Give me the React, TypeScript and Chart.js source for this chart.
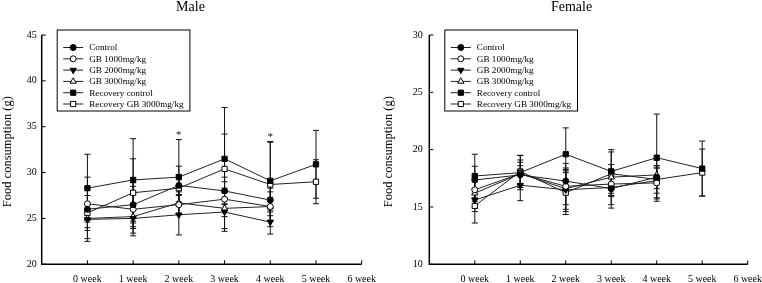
import React, { useEffect, useRef } from 'react';
import { Chart, registerables } from 'chart.js';

Chart.register(...registerables);

const weeks = [0, 1, 2, 3, 4, 5];
const weekLabels = ['0 week', '1 week', '2 week', '3 week', '4 week', '5 week', '6 week'];
const seriesNames = ['Control', 'GB 1000mg/kg', 'GB 2000mg/kg', 'GB 3000mg/kg', 'Recovery control', 'Recovery GB 3000mg/kg'];
const yTitle = 'Food consumption (g)';

// Male means
const maleControl = [26.0, 26.5, 28.6, 28.0, 27.0, null];
const maleGB1000 = [26.6, 26.0, 26.5, 27.1, 26.3, null];
const maleGB2000 = [24.9, 25.0, 25.4, 25.7, 24.6, null];
const maleGB3000 = [25.0, 25.2, 26.7, 26.1, 26.3, null];
const maleRecControl = [28.3, 29.2, 29.5, 31.5, 29.1, 30.9];
const maleRecGB3000 = [25.6, 27.8, 28.3, 30.4, 28.7, 29.0];
// Male SD
const maleControlSD = [3.5, 2.0, 2.1, 1.5, 1.3, null];
const maleGB1000SD = [0.9, 2.9, 1.0, 1.9, 1.0, null];
const maleGB2000SD = [1.2, 1.6, 2.2, 2.1, 1.3, null];
const maleGB3000SD = [1.0, 1.3, 1.2, 2.2, 1.6, null];
const maleRecControlSD = [3.7, 4.5, 4.1, 5.6, 4.3, 3.7];
const maleRecGB3000SD = [2.8, 3.7, 1.5, 3.8, 4.6, 2.4];
const maleSigWeeks = [2, 4];

// Female means
const femaleControl = [17.35, 17.8, 17.26, 16.6, 17.6, null];
const femaleGB1000 = [16.5, 17.9, 16.8, 17.0, 17.1, null];
const femaleGB2000 = [15.6, 16.9, 16.5, 16.7, 17.3, null];
const femaleGB3000 = [16.2, 17.9, 16.6, 17.6, 17.8, null];
const femaleRecControl = [17.7, 18.0, 19.6, 18.1, 19.3, 18.35];
const femaleRecGB3000 = [15.1, 18.1, 16.25, 17.9, 17.4, 18.0];
// Female SD
const femaleControlSD = [1.2, 0.8, 1.0, 1.7, 1.0, null];
const femaleGB1000SD = [1.0, 1.0, 2.0, 1.1, 1.3, null];
const femaleGB2000SD = [1.0, 1.35, 1.9, 1.5, 1.1, null];
const femaleGB3000SD = [1.3, 1.2, 1.4, 1.1, 0.8, null];
const femaleRecControlSD = [1.9, 1.5, 2.3, 1.9, 3.8, 2.4];
const femaleRecGB3000SD = [1.5, 1.4, 1.9, 1.9, 1.7, 2.05];
const femaleSigWeeks: number[] = [];

const markerStyles = ['circle', 'circle', 'triangle', 'triangle', 'rect', 'rect'];
const markerRotations = [0, 0, 180, 0, 0, 0];
const markerFills = ['#000', '#fff', '#000', '#fff', '#000', '#fff'];

const FONT = '"Liberation Serif", "Times New Roman", serif';
const W = 381;
const H = 283;
const AREA_TOP = 35;
const AREA_BOTTOM = 264.3;

type Panel = {
  title: string;
  yMin: number;
  yMax: number;
  axisLeft: number;
  axisRight: number;
  tickPad: number;
  yTitleX: number;
  means: (number | null)[][];
  sds: (number | null)[][];
  sig: number[];
};

const panels: Panel[] = [
  {
    title: 'Male', yMin: 20, yMax: 45, axisLeft: 41.7, axisRight: 361.7, tickPad: 5, yTitleX: 7.5,
    means: [maleControl, maleGB1000, maleGB2000, maleGB3000, maleRecControl, maleRecGB3000],
    sds: [maleControlSD, maleGB1000SD, maleGB2000SD, maleGB3000SD, maleRecControlSD, maleRecGB3000SD],
    sig: maleSigWeeks,
  },
  {
    title: 'Female', yMin: 10, yMax: 30, axisLeft: 48.3, axisRight: 366.7, tickPad: 6.5, yTitleX: 8,
    means: [femaleControl, femaleGB1000, femaleGB2000, femaleGB3000, femaleRecControl, femaleRecGB3000],
    sds: [femaleControlSD, femaleGB1000SD, femaleGB2000SD, femaleGB3000SD, femaleRecControlSD, femaleRecGB3000SD],
    sig: femaleSigWeeks,
  },
];

function drawMarker(ctx: CanvasRenderingContext2D, i: number, x: number, y: number) {
  ctx.save();
  ctx.fillStyle = markerFills[i];
  ctx.strokeStyle = '#000';
  ctx.lineWidth = 1;
  ctx.beginPath();
  const style = markerStyles[i];
  if (style === 'circle') {
    ctx.arc(x, y, 3, 0, Math.PI * 2);
  } else if (style === 'rect') {
    ctx.rect(x - 2.6, y - 2.6, 5.2, 5.2);
  } else {
    const r = 3.6;
    const dir = markerRotations[i] === 180 ? -1 : 1;
    ctx.moveTo(x, y - dir * r);
    ctx.lineTo(x + r * 0.866, y + dir * r * 0.5);
    ctx.lineTo(x - r * 0.866, y + dir * r * 0.5);
    ctx.closePath();
  }
  ctx.fill();
  ctx.stroke();
  ctx.restore();
}

function makePlugin(p: Panel) {
  return {
    id: 'custom' + p.title,
    beforeDatasetsDraw(chart: any) {
      const ctx = chart.ctx as CanvasRenderingContext2D;
      const xs = chart.scales.x;
      const ys = chart.scales.y;
      ctx.save();
      ctx.strokeStyle = '#111';
      ctx.lineWidth = 1;
      p.means.forEach((arr, si) => {
        arr.forEach((v, i) => {
          const sd = p.sds[si][i];
          if (v == null || sd == null) return;
          const x = xs.getPixelForValue(weeks[i]);
          const yt = ys.getPixelForValue(v + sd);
          const yb = ys.getPixelForValue(v - sd);
          ctx.beginPath();
          ctx.moveTo(x, yt);
          ctx.lineTo(x, yb);
          ctx.moveTo(x - 3, yt);
          ctx.lineTo(x + 3, yt);
          ctx.moveTo(x - 3, yb);
          ctx.lineTo(x + 3, yb);
          ctx.stroke();
        });
      });
      ctx.restore();
    },
    afterDraw(chart: any) {
      const ctx = chart.ctx as CanvasRenderingContext2D;
      const xs = chart.scales.x;
      const ys = chart.scales.y;
      const a = chart.chartArea;
      ctx.save();
      // axes
      ctx.strokeStyle = '#000';
      ctx.lineWidth = 1.5;
      ctx.beginPath();
      ctx.moveTo(a.left, a.top);
      ctx.lineTo(a.left, a.bottom);
      ctx.lineTo(a.right, a.bottom);
      ctx.stroke();
      ctx.lineWidth = 1;
      ctx.beginPath();
      for (let v = p.yMin; v <= p.yMax; v += 5) {
        const y = ys.getPixelForValue(v);
        ctx.moveTo(a.left, y);
        ctx.lineTo(a.left + 4, y);
      }
      for (let i = 0; i < weekLabels.length; i++) {
        const x = xs.getPixelForValue(i);
        ctx.moveTo(x, a.bottom);
        ctx.lineTo(x, a.bottom - 4);
      }
      ctx.stroke();

      // significance
      ctx.fillStyle = '#111';
      ctx.font = '11px ' + FONT;
      ctx.textAlign = 'center';
      ctx.textBaseline = 'alphabetic';
      p.sig.forEach((w) => {
        let top = Infinity;
        p.means.forEach((arr, si) => {
          const v = arr[w];
          const sd = p.sds[si][w];
          if (v == null || sd == null) return;
          top = Math.min(top, ys.getPixelForValue(v + sd));
        });
        ctx.fillText('*', xs.getPixelForValue(w), top - 1.5);
      });

      // title
      ctx.fillStyle = '#000';
      ctx.font = '14px ' + FONT;
      ctx.textAlign = 'center';
      ctx.fillText(p.title, chart.width / 2, 11);

      // y title
      ctx.save();
      ctx.translate(p.yTitleX, (a.top + a.bottom) / 2 + 2);
      ctx.rotate(-Math.PI / 2);
      ctx.font = '12.5px ' + FONT;
      ctx.textAlign = 'center';
      ctx.textBaseline = 'middle';
      ctx.fillText(yTitle, 0, 0);
      ctx.restore();

      // legend
      const bx = a.left + 15.5;
      const by = 30;
      const bw = 132.7;
      const bh = 81;
      ctx.fillStyle = '#fff';
      ctx.fillRect(bx, by, bw, bh);
      ctx.strokeStyle = '#000';
      ctx.lineWidth = 1;
      ctx.strokeRect(bx, by, bw, bh);
      ctx.font = '9.2px ' + FONT;
      ctx.textAlign = 'left';
      ctx.textBaseline = 'middle';
      seriesNames.forEach((name, i) => {
        const y = 47.5 + i * 11.3;
        ctx.strokeStyle = '#222';
        ctx.beginPath();
        ctx.moveTo(bx + 6, y);
        ctx.lineTo(bx + 26, y);
        ctx.stroke();
        drawMarker(ctx, i, bx + 16, y);
        ctx.fillStyle = '#000';
        ctx.fillText(name, bx + 32, y + 0.5);
      });
      ctx.restore();
    },
  };
}

function ChartPanel({ p }: { p: Panel }) {
  const ref = useRef<HTMLCanvasElement>(null);
  useEffect(() => {
    if (!ref.current) return;
    const datasets = p.means.map((arr, si) => ({
      label: seriesNames[si],
      data: arr.map((v, i) => ({ x: weeks[i], y: v })),
      borderColor: '#222',
      borderWidth: 1,
      pointStyle: markerStyles[si] as any,
      pointRotation: markerRotations[si],
      pointRadius: markerStyles[si] === 'rect' ? 3.7 : markerStyles[si] === 'triangle' ? 3.6 : 3,
      pointBackgroundColor: markerFills[si],
      pointBorderColor: '#000',
      pointBorderWidth: 1,
      spanGaps: false,
      tension: 0,
      fill: false,
    }));
    const chart = new Chart(ref.current, {
      type: 'line',
      data: { datasets },
      plugins: [makePlugin(p)],
      options: {
        animation: false,
        responsive: false,
        devicePixelRatio: 1,
        events: [],
        layout: { padding: { left: 0, right: W - p.axisRight, top: AREA_TOP, bottom: 0 } },
        plugins: { legend: { display: false }, title: { display: false }, tooltip: { enabled: false } },
        scales: {
          x: {
            type: 'linear',
            min: -1,
            max: 6,
            afterBuildTicks: (s: any) => {
              s.ticks = weekLabels.map((_, i) => ({ value: i }));
            },
            afterFit: (s: any) => {
              s.height = H - AREA_BOTTOM;
              s.paddingLeft = 0;
              s.paddingRight = 0;
            },
            ticks: {
              autoSkip: false,
              maxRotation: 0,
              padding: 9,
              color: '#000',
              font: { family: FONT, size: 10 },
              callback: (v: any) => weekLabels[v] ?? '',
            },
            grid: { display: false, drawTicks: false },
            border: { display: false },
          },
          y: {
            type: 'linear',
            min: p.yMin,
            max: p.yMax,
            afterFit: (s: any) => {
              s.width = p.axisLeft;
              s.paddingTop = 0;
              s.paddingBottom = 0;
            },
            ticks: {
              stepSize: 5,
              padding: p.tickPad,
              color: '#000',
              font: { family: FONT, size: 10 },
            },
            grid: { display: false, drawTicks: false },
            border: { display: false },
          },
        },
      },
    } as any);
    return () => chart.destroy();
  }, [p]);
  return <canvas ref={ref} width={W} height={H} style={{ display: 'block', width: W, height: H }} />;
}

export default function App() {
  return (
    <div style={{ position: 'absolute', left: 0, top: 0, width: 762, height: 283, display: 'flex', background: '#fff' }}>
      {panels.map((p) => (
        <ChartPanel key={p.title} p={p} />
      ))}
    </div>
  );
}
